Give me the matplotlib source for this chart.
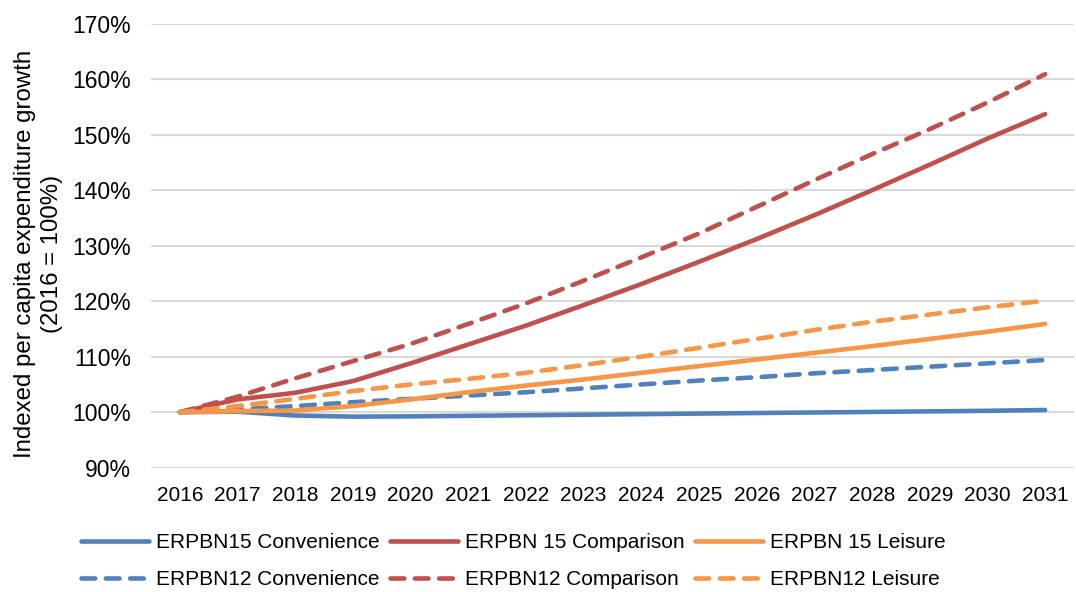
import matplotlib
matplotlib.use("Agg")
import matplotlib.pyplot as plt
from matplotlib.ticker import FuncFormatter

plt.rcParams['font.family'] = ['Liberation Sans', 'DejaVu Sans']

years = list(range(2016, 2032))
erpbn15_convenience = [100, 100.1, 99.4, 99.2, 99.25, 99.35, 99.45, 99.55, 99.65, 99.75, 99.85, 99.95, 100.05, 100.15, 100.25, 100.4]
erpbn15_comparison = [100, 102.3, 103.5, 105.6, 108.8, 112.2, 115.6, 119.3, 123.1, 127.1, 131.2, 135.5, 140.0, 144.6, 149.3, 153.7]
erpbn15_leisure = [100, 100.2, 100.3, 101.1, 102.3, 103.6, 104.8, 105.9, 107.1, 108.3, 109.5, 110.7, 111.9, 113.2, 114.5, 115.9]
erpbn12_convenience = [100, 100.5, 101.1, 101.8, 102.4, 103.0, 103.6, 104.3, 105.0, 105.7, 106.3, 107.0, 107.6, 108.2, 108.8, 109.4]
erpbn12_comparison = [100, 102.8, 106.1, 109.2, 112.3, 115.9, 119.6, 123.7, 127.9, 132.2, 137.0, 141.8, 146.5, 151.0, 155.8, 160.9]
erpbn12_leisure = [100, 101.1, 102.4, 103.8, 105.0, 106.0, 107.1, 108.5, 110.0, 111.6, 113.2, 114.8, 116.3, 117.6, 118.9, 120.1]

labels = ["ERPBN15 Convenience", "ERPBN12 Convenience",
          "ERPBN 15 Comparison", "ERPBN12 Comparison",
          "ERPBN 15 Leisure", "ERPBN12 Leisure"]
y_ticks = [90, 100, 110, 120, 130, 140, 150, 160, 170]

BLUE = "#4F81BD"
RED = "#C0504D"
ORANGE = "#F79646"

fig = plt.figure(figsize=(10.76, 5.92), dpi=100)
ax = fig.add_axes([151/1076, 1-467.7/592, (1074-151)/1076, (467.7-23.7)/592])

lw = 3.3
dash = (0, (3.0, 2.3))
series = [
    (erpbn15_convenience, BLUE, '-', labels[0]),
    (erpbn12_convenience, BLUE, dash, labels[1]),
    (erpbn15_comparison, RED, '-', labels[2]),
    (erpbn12_comparison, RED, dash, labels[3]),
    (erpbn15_leisure, ORANGE, '-', labels[4]),
    (erpbn12_leisure, ORANGE, dash, labels[5]),
]
handles = []
for vals, col, ls, lab in series:
    h, = ax.plot(years, vals, color=col, linestyle=ls, linewidth=lw,
                 solid_capstyle='round', dash_capstyle='round', label=lab, zorder=3)
    handles.append(h)

ax.set_xlim(2015.5, 2031.5)
ax.set_ylim(90, 170)
ax.set_yticks(y_ticks)
ax.set_xticks(years)
ax.yaxis.set_major_formatter(FuncFormatter(lambda v, p: f"{v:.0f}%"))
ax.grid(axis='y', color='#D9D9D9', linewidth=1.5, zorder=0)
ax.grid(axis='x', visible=False)
for s in ax.spines.values():
    s.set_visible(False)
ax.tick_params(axis='both', length=0, colors='black')
ax.tick_params(axis='x', pad=13, labelsize=15)
ax.tick_params(axis='y', pad=14.5, labelsize=16.5)
ax.set_ylabel("Indexed per capita expenditure growth\n(2016 = 100%)", fontsize=17.3,
              linespacing=1.3)
ax.yaxis.set_label_coords((63-151)/923, 1-(254-23.7)/444)

leg = fig.legend(handles=handles, labels=labels, ncol=3, loc='center',
                 bbox_to_anchor=(513/1076, 1-561/592), frameon=False,
                 fontsize=15, handlelength=3.3, handletextpad=0.3,
                 columnspacing=0.5, labelspacing=0.85, borderaxespad=0)

fig.savefig("out.png", dpi=100)
